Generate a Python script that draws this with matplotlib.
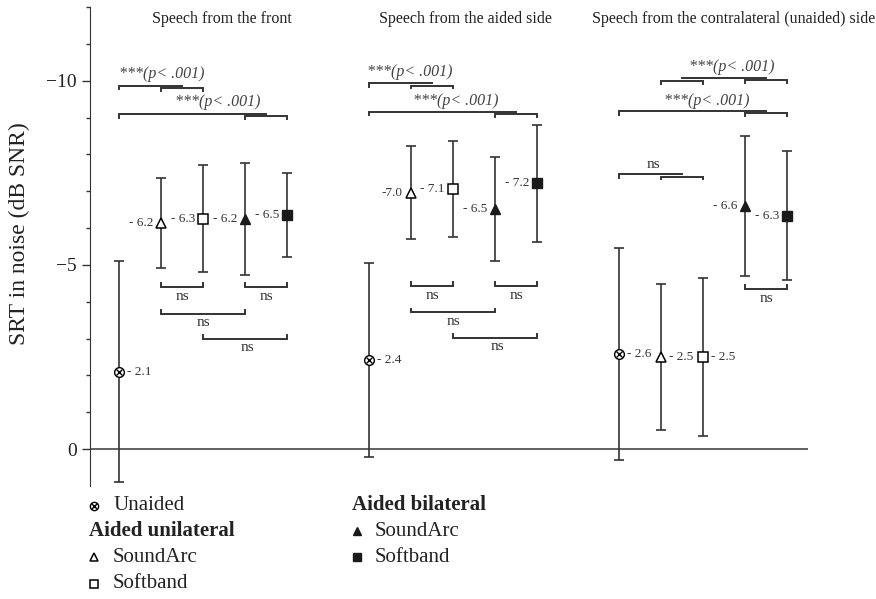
import numpy as np
import matplotlib.pyplot as plt

plt.rcParams['font.family'] = ['Liberation Serif', 'DejaVu Serif']

# scenes and conditions
scenes = ['Speech from the front', 'Speech from the aided side',
          'Speech from the contralateral (unaided) side']
conditions = ['Unaided', 'Unilateral SoundArc', 'Unilateral Softband',
              'Bilateral SoundArc', 'Bilateral Softband']

# mean SRT (dB SNR) and error bar half-widths
means_front = [-2.1, -6.15, -6.25, -6.25, -6.35]
err_front = [3.0, 1.22, 1.45, 1.53, 1.14]
labels_front = ['- 2.1', '- 6.2', '- 6.3', '- 6.2', '- 6.5']

means_aided = [-2.42, -6.96, -7.07, -6.52, -7.22]
err_aided = [2.62, 1.26, 1.3, 1.42, 1.59]
labels_aided = ['- 2.4', '-7.0', '- 7.1', '- 6.5', '- 7.2']

means_contra = [-2.58, -2.5, -2.5, -6.6, -6.33]
err_contra = [2.88, 1.98, 2.15, 1.9, 1.75]
labels_contra = ['- 2.6', '- 2.5', '- 2.5', '- 6.6', '- 6.3']

all_means = [means_front, means_aided, means_contra]
all_err = [err_front, err_aided, err_contra]
all_labels = [labels_front, labels_aided, labels_contra]

DARK = '#333333'
GAP = 5.95

fig = plt.figure(figsize=(8.76, 5.99), dpi=100)
ax = fig.add_axes([0.1027, 0.1886, 0.8197, 0.7996])


def draw_marker(x, y, i, axis=ax, size=1.0, **kw):
    if i == 0:
        axis.plot(x, y, 'o', ms=7 * size, mfc='white', mec='black', mew=1.0, **kw)
        axis.plot(x, y, 'x', ms=4.6 * size, mec='black', mew=1.0, **kw)
    elif i == 1:
        axis.plot(x, y, '^', ms=7.8 * size, mfc='white', mec='black', mew=1.1, **kw)
    elif i == 2:
        axis.plot(x, y, 's', ms=7.2 * size, mfc='white', mec='black', mew=1.1, **kw)
    elif i == 3:
        axis.plot(x, y, '^', ms=7.8 * size, mfc='#1a1a1a', mec='#1a1a1a', **kw)
    else:
        axis.plot(x, y, 's', ms=7.2 * size, mfc='#1a1a1a', mec='#1a1a1a', **kw)


for g in range(3):
    for i in range(5):
        x = g * GAP + i
        m = all_means[g][i]
        ax.errorbar(x, m, yerr=all_err[g][i], fmt='none', ecolor=DARK,
                    elinewidth=1.2, capsize=3.6, capthick=1.2, zorder=2)
        draw_marker(x, m, i, zorder=3)
        right = i == 0 or (g == 2 and i in (1, 2))
        if right:
            ax.annotate(all_labels[g][i], (x, m), xytext=(8, 0), textcoords='offset pixels',
                        ha='left', va='center', fontsize=9.5, color=DARK)
        else:
            ax.annotate(all_labels[g][i], (x, m), xytext=(-8, 0), textcoords='offset pixels',
                        ha='right', va='center', fontsize=9.5, color=DARK)


def bracket(x1, x2, y, tick):
    ax.plot([x1, x1, x2, x2], [y + tick, y, y, y + tick], color=DARK, lw=1.4,
            solid_joinstyle='miter', zorder=2)


def line(x1, x2, y, left_tick=None):
    if left_tick is None:
        ax.plot([x1, x2], [y, y], color=DARK, lw=1.4, zorder=2)
    else:
        ax.plot([x1, x1, x2], [y + left_tick, y, y], color=DARK, lw=1.4,
                solid_joinstyle='miter', zorder=2)


def sig_text(x, y, s='***(p< .001)'):
    ax.text(x, y, s, ha='center', va='center', fontsize=11.5, style='italic', color='#444444')


def ns_text(x, y):
    ax.text(x, y, 'ns', ha='center', va='center', fontsize=11, color=DARK)


# significance brackets: front and aided side
top_y = [(-9.87, -10.17, 1.02, 2.36, -9.1, -9.42), (-9.94, -10.25, 0.98, 2.07, -9.16, -9.45)]
for g in range(2):
    o = g * GAP
    y1, ty1, tx1, tx2, y2, ty2 = top_y[g]
    line(o, o + 1.5, y1, left_tick=0.1)
    bracket(o + 1, o + 2, y1 + 0.07, 0.08)
    sig_text(o + tx1, ty1)
    line(o, o + 3.5, y2, left_tick=0.1)
    bracket(o + 3, o + 4, y2 + 0.06, 0.08)
    sig_text(o + tx2, ty2)

    yb = -4.4 - 0.03 * g
    bracket(o + 1, o + 2, yb, -0.1)
    ns_text(o + 1.5, yb + 0.25)
    bracket(o + 3, o + 4, yb, -0.1)
    ns_text(o + 3.5, yb + 0.25)
    bracket(o + 1, o + 3, yb + 0.72, -0.1)
    ns_text(o + 2.0, yb + 0.97)
    bracket(o + 2, o + 4, yb + 1.4, -0.1)
    ns_text(o + 3.05, yb + 1.65)

# contralateral side
o = 2 * GAP
bracket(o + 1, o + 2, -10.0, 0.08)
line(o + 1.5, o + 3.5, -10.08)
bracket(o + 3, o + 4, -10.03, 0.08)
sig_text(o + 2.69, -10.38)
line(o, o + 3.5, -9.18, left_tick=0.1)
bracket(o + 3, o + 4, -9.12, 0.08)
sig_text(o + 2.1, -9.45)
line(o, o + 1.5, -7.47, left_tick=0.1)
bracket(o + 1, o + 2, -7.4, 0.08)
ns_text(o + 0.83, -7.72)
bracket(o + 3, o + 4, -4.35, -0.1)
ns_text(o + 3.5, -4.1)

# scene titles
title_x = [2.45, GAP + 2.3, 2 * GAP + 2.73]
for g in range(3):
    ax.text(title_x[g], -11.68, scenes[g], ha='center', va='center', fontsize=11.5,
            color='#222222', clip_on=False)

ax.axhline(0, color='#555555', lw=1.3, zorder=1)
ax.set_xlim(-0.69, 16.4)
ax.set_ylim(1, -12)
ax.set_yticks([-10, -5, 0])
ax.set_yticks(np.arange(-12, 1, 1), minor=True)
ax.tick_params(axis='y', which='major', length=6, width=1, colors='#333333', labelsize=14, labelcolor='#222222')
ax.tick_params(axis='y', which='minor', length=3, width=1, colors='#333333')
ax.set_xticks([])
for s in ['top', 'right', 'bottom']:
    ax.spines[s].set_visible(False)
ax.spines['left'].set_color('#333333')
ax.set_ylabel('SRT in noise (dB SNR)', fontsize=17, color='#222222')
ax.yaxis.set_label_coords(-0.083, 0.528)

# legend drawn by hand below the axes
fx = lambda px: px / 876
fy = lambda py: 1 - py / 599
leg_ax = fig.add_axes([0, 0, 1, 1], facecolor='none')
leg_ax.set_axis_off()
leg_ax.set_xlim(0, 1)
leg_ax.set_ylim(0, 1)
draw_marker(fx(94), fy(506), 0, axis=leg_ax, size=0.85)
leg_ax.text(fx(113), fy(506), 'Unaided', fontsize=15, va='center', ha='left', color='#222222')
leg_ax.text(fx(89), fy(531), 'Aided unilateral', fontsize=15, va='center', ha='left',
            weight='bold', color='#222222')
draw_marker(fx(94), fy(557), 1, axis=leg_ax, size=0.8)
leg_ax.text(fx(113), fy(557), 'SoundArc', fontsize=15, va='center', ha='left', color='#222222')
draw_marker(fx(94), fy(584), 2, axis=leg_ax, size=0.8)
leg_ax.text(fx(113), fy(584), 'Softband', fontsize=15, va='center', ha='left', color='#222222')
leg_ax.text(fx(352), fy(505), 'Aided bilateral', fontsize=15, va='center', ha='left',
            weight='bold', color='#222222')
draw_marker(fx(357), fy(531), 3, axis=leg_ax, size=0.8)
leg_ax.text(fx(375), fy(531), 'SoundArc', fontsize=15, va='center', ha='left', color='#222222')
draw_marker(fx(357), fy(557), 4, axis=leg_ax, size=0.8)
leg_ax.text(fx(375), fy(557), 'Softband', fontsize=15, va='center', ha='left', color='#222222')

fig.savefig('out.png', dpi=100)
